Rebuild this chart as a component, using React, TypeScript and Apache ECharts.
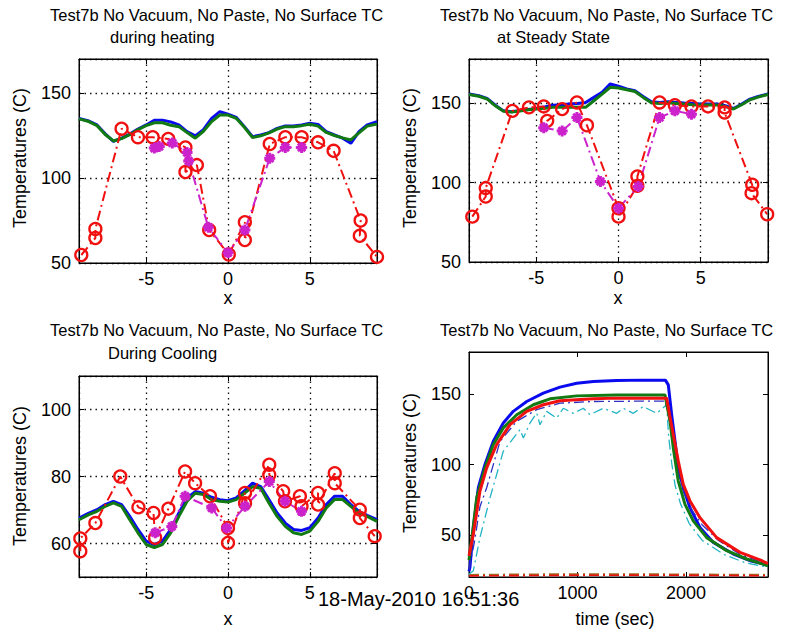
import React, { useEffect, useRef } from 'react';
import * as echarts from 'echarts';

// ---------- data ----------
const X_PROF = [-9.1, -8.5, -8, -7.5, -7, -6.5, -6, -5.5, -5, -4.5, -4, -3.5, -3, -2.5, -2, -1.5, -1, -0.5, 0, 0.5, 1, 1.5, 2, 2.5, 3, 3.5, 4, 4.5, 5, 5.5, 6, 6.5, 7, 7.5, 8, 8.5, 9.1];

// during heating
const HEAT_BLUE = [135.1, 133.5, 131.2, 126, 121.5, 123.5, 125.8, 128.8, 131.2, 134, 134, 133, 131.2, 127.3, 124.8, 128.4, 135.1, 139, 137.6, 135.7, 130.2, 124.3, 125.3, 126.7, 129.2, 130.6, 130.6, 131.2, 132.2, 131.5, 127.3, 125.3, 123.4, 120.4, 127.3, 131.2, 133.1];
const HEAT_GREEN = [134.8, 133.2, 130.8, 125.6, 121.8, 123.2, 125.5, 128.5, 130.8, 132.5, 132.5, 131, 130.2, 126.7, 123.4, 127.5, 133.2, 137, 137, 135.1, 129.8, 123.8, 124.8, 126.5, 128.8, 130.2, 130.2, 130.8, 131.6, 130.5, 126.8, 125, 123.6, 122.4, 126.5, 130.5, 131.8];
const HEAT_RED_X = [-8.96, -8.1, -8.1, -6.5, -5.5, -4.6, -3.65, -2.6, -2.6, -1.9, -1.15, 0.05, 1.03, 1.03, 2.55, 3.5, 4.5, 5.5, 6.45, 8.1, 8.05, 9.1];
const HEAT_RED_Y = [54.7, 64.7, 70, 129, 124, 124, 123, 118, 103.5, 107.6, 69.4, 55, 74, 63.5, 120, 124, 124, 121, 116, 75, 66, 53.6];
const HEAT_MAG_X = [-4.5, -4.2, -3.4, -2.5, -2.4, -1.2, 0, 1.03, 2.55, 3.5, 4.5];
const HEAT_MAG_Y = [117.6, 118.5, 120.6, 115, 110, 71, 56, 69.4, 111.6, 118, 118];

// at steady state
const SS_BLUE = [155.9, 154.8, 153.2, 148.9, 145.3, 144.7, 145.5, 146.2, 146.8, 147.8, 148.9, 149.2, 149.6, 150, 150.6, 153.8, 157, 162.3, 160.8, 159.1, 158, 154.4, 151, 150.6, 151, 150.6, 150.2, 150, 149.6, 149.6, 149.6, 148.5, 146.8, 149.6, 152.7, 154.4, 155.9];
const SS_GREEN = [155.6, 154.5, 152.8, 148.5, 145, 144.5, 145.2, 146, 146.5, 147, 147.5, 147.5, 147.5, 147.5, 147.5, 151.7, 155.9, 160.2, 159.7, 158.6, 157.5, 153.8, 150.4, 150, 150.4, 150, 149.6, 149.2, 149, 149, 149, 148, 146.5, 149.2, 152.3, 154, 155.6];
const SS_RED_X = [-8.9, -8.08, -8.08, -6.46, -5.45, -4.55, -4.34, -3.43, -2.53, -1.92, 0, 0, 1.15, 1.15, 2.5, 3.43, 4.44, 5.45, 6.46, 6.46, 8.14, 8.1, 9.05];
const SS_RED_Y = [78.6, 91.3, 96.6, 145.3, 147.5, 148.1, 139, 146.4, 150.6, 136.2, 83.9, 78.6, 98, 104, 150.6, 148.9, 148.1, 148.1, 147.5, 144.3, 98.7, 93.4, 80.1];
const SS_MAG_X = [-4.55, -3.43, -2.53, -1.1, 0, 1.2, 2.5, 3.43, 4.44];
const SS_MAG_Y = [134.7, 132.6, 141.1, 100.8, 83.9, 97.6, 141.1, 145.3, 143.2];

// during cooling
const COOL_BLUE = [67.6, 69.1, 70.1, 71.6, 72.6, 71.6, 68.1, 64.2, 60.7, 59.7, 60.7, 64.2, 69.1, 73.6, 75.5, 75, 73.8, 73.1, 72.8, 73.6, 75.7, 78, 77, 73.1, 69.1, 66.1, 64.2, 63.9, 64.7, 67.6, 71.6, 74.1, 74.1, 71.6, 69.6, 68.4, 67.1];
const COOL_GREEN = [67.1, 68.6, 69.6, 71.1, 72.1, 71.1, 67.1, 63.2, 59.7, 58.8, 59.7, 63.2, 68.1, 72.6, 75, 74.6, 73.1, 72.6, 72.4, 73.1, 75, 77, 76.5, 72.1, 68.1, 65.1, 63.2, 62.7, 63.7, 66.6, 70.6, 73.1, 73.1, 71.1, 69.1, 68.1, 66.6];
const COOL_RED_X = [-9.02, -9.02, -8.1, -6.58, -5.47, -4.55, -4.45, -3.64, -2.62, -2.01, -1.1, 0, 0, 1.04, 1.04, 2.52, 2.52, 3.37, 3.48, 4.39, 4.49, 5.5, 5.5, 6.52, 6.52, 8.05, 8.05, 8.96];
const COOL_RED_Y = [57.7, 61.5, 66.1, 80, 70.8, 69.1, 61.7, 70.4, 81.5, 78, 74.1, 64.6, 60.2, 75.1, 72, 83.5, 80.5, 75.6, 72.6, 74.1, 71.1, 75.1, 71.6, 81, 78, 70.1, 67.6, 62.2];
const COOL_MAG_X = [-4.45, -3.43, -2.62, -0.99, -0.08, 1.04, 2.52, 3.48, 4.49];
const COOL_MAG_Y = [63.2, 65.1, 74.1, 70.6, 64.6, 71.1, 78.5, 72.6, 69.6];

// time history
const T_BLUE = [0, 9, 40, 86, 147, 224, 316, 408, 532, 685, 839, 993, 1146, 1361, 1600, 1810, 1837, 1868, 1899, 1929, 1975, 2037, 2129, 2252, 2436, 2590, 2756];
const V_BLUE = [24, 27, 55, 83.5, 100, 116.5, 129.5, 137.8, 144.8, 150.7, 155, 157.8, 159, 159.7, 160, 160, 156.6, 135.4, 116.5, 97.6, 83.5, 69.3, 55.2, 44.6, 36.3, 31.6, 28.5];
const T_GREEN = [0, 30, 71, 147, 224, 316, 440, 593, 747, 993, 1361, 1806, 1853, 1883, 1929, 1991, 2067, 2191, 2375, 2559, 2756];
const V_GREEN = [32, 50, 76.4, 97.6, 114.2, 126, 135.4, 142.5, 146.7, 148.8, 149.5, 149.5, 130.7, 111.8, 88.2, 71.7, 59.9, 48, 38.7, 32.8, 28];
const T_RED = [0, 40, 101, 163, 255, 378, 532, 685, 839, 1146, 1361, 1800, 1822, 1850, 1883, 1929, 1975, 2037, 2129, 2283, 2498, 2682, 2756];
const V_RED = [35, 50.5, 81.1, 97.6, 114.2, 128.3, 137.8, 142.5, 145.3, 146.7, 147.2, 147.2, 147.2, 135, 121.3, 102.4, 85.9, 74.1, 62.2, 48, 37.5, 32.2, 29.5];
const T_BLUE_DD = [0, 50, 101, 163, 286, 440, 624, 839, 1146, 1500, 1800, 1830, 1870, 1920, 1980, 2050, 2150, 2300, 2500, 2756];
const V_BLUE_DD = [25, 45, 70, 83.5, 116.5, 130.7, 139, 143.6, 144.8, 145, 145, 140, 118, 95, 80, 68, 57, 46, 36, 29];
const T_CYAN = [0, 40, 101, 194, 316, 470, 501, 562, 624, 654, 716, 808, 869, 961, 1054, 1115, 1238, 1361, 1422, 1514, 1606, 1730, 1822, 1840, 1870, 1900, 1950, 2030, 2150, 2350, 2550, 2756];
const V_CYAN = [22, 24.5, 48, 76.4, 109.4, 124.8, 118.9, 129.5, 136.6, 128.3, 137.8, 133, 140, 136.4, 140, 135.4, 140, 136.4, 140, 136.4, 141.2, 136.4, 142.5, 120, 100, 85, 72, 58, 46, 36, 30, 27];
const T_BOTTOM = [0, 500, 1000, 1500, 2000, 2500, 2756];
const V_BOTTOM_RED = [20.8, 21, 21.2, 21.3, 21.2, 21, 20.9];
const V_BOTTOM_BROWN = [21.5, 21.8, 22, 22, 21.8, 21.6, 21.5];

const X_TICKS = [-5, 0, 5];
const T_TICKS = [0, 1000, 2000];
const Y_TICKS_HEAT = [50, 100, 150];
const Y_TICKS_SS = [50, 100, 150];
const Y_TICKS_COOL = [60, 80, 100];
const Y_TICKS_TIME = [50, 100, 150];

const TITLE = 'Test7b No Vacuum, No Paste, No Surface TC';

// ---------- styling helpers ----------
const FONT = "'Liberation Sans', Arial, Helvetica, sans-serif";
const BLUE = '#0a0aee';
const GREEN = '#127a12';
const RED = '#f01010';
const MAG = '#cc22cc';
const CYAN = '#22b4c4';
const DASHDOT: number[] = [10, 4, 2, 4];
const STAR = 'path://M5 0 L5 10 M0 5 L10 5 M1.6 1.6 L8.4 8.4 M1.6 8.4 L8.4 1.6';

const zip = (xs: number[], ys: number[]) => xs.map((x, i) => [x, ys[i]]);
const inList = (v: number, list: number[]) => list.some((t) => Math.abs(t - v) < 1e-6);

function makeXAxis(gi: number, min: number, max: number, step: number, ticks: number[], grid: boolean) {
  const common = {
    type: 'value', gridIndex: gi, min, max, minInterval: step, maxInterval: step,
    axisLine: { show: true, onZero: false, lineStyle: { color: '#000', width: 1 } },
    axisTick: { show: true, inside: true, length: 5, lineStyle: { color: '#000', width: 1 } },
  };
  return [
    {
      ...common, position: 'bottom',
      axisLabel: { show: true, margin: 7, color: '#000', fontSize: 18, fontFamily: FONT, formatter: (v: number) => (inList(v, ticks) ? String(v) : '') },
      splitLine: { show: grid, lineStyle: { color: '#111', type: [1.5, 4], width: 1.3 } },
    },
    { ...common, position: 'top', axisLabel: { show: false }, splitLine: { show: false } },
  ];
}

function makeYAxis(gi: number, min: number, max: number, step: number, ticks: number[], grid: boolean) {
  const common = {
    type: 'value', gridIndex: gi, min, max, minInterval: step, maxInterval: step,
    axisLine: { show: true, onZero: false, lineStyle: { color: '#000', width: 1 } },
    axisTick: { show: true, inside: true, length: 5, lineStyle: { color: '#000', width: 1 } },
  };
  return [
    {
      ...common, position: 'left',
      axisLabel: { show: true, margin: 8, color: '#000', fontSize: 18, fontFamily: FONT, formatter: (v: number) => (inList(v, ticks) ? String(v) : '') },
      splitLine: { show: grid, lineStyle: { color: '#111', type: [1.5, 4], width: 1.3 } },
    },
    { ...common, position: 'right', axisLabel: { show: false }, splitLine: { show: false } },
  ];
}

function solid(ai: number, data: number[][], color: string, width: number) {
  return {
    type: 'line', xAxisIndex: ai, yAxisIndex: ai, data, showSymbol: false, symbol: 'none',
    lineStyle: { color, width }, itemStyle: { color }, silent: true,
  };
}

function dashed(ai: number, data: number[][], color: string, width: number) {
  return {
    type: 'line', xAxisIndex: ai, yAxisIndex: ai, data, showSymbol: false, symbol: 'none',
    lineStyle: { color, width, type: DASHDOT }, itemStyle: { color }, silent: true,
  };
}

function marked(ai: number, data: number[][], color: string, symbol: string, size: number, bw: number) {
  return {
    type: 'line', xAxisIndex: ai, yAxisIndex: ai, data, symbol, symbolSize: size, showSymbol: true, showAllSymbol: true,
    lineStyle: { color, width: 2, type: DASHDOT },
    itemStyle: { color: 'rgba(0,0,0,0)', borderColor: color, borderWidth: bw },
    silent: true,
  };
}

function profileSeries(ai: number, blue: number[], green: number[], rx: number[], ry: number[], mx: number[], my: number[]) {
  return [
    solid(ai, zip(X_PROF, blue), BLUE, 3),
    solid(ai, zip(X_PROF, green), GREEN, 3),
    marked(ai, zip(rx, ry), RED, 'circle', 12, 2.3),
    marked(ai, zip(mx, my), MAG, STAR, 11, 3),
  ];
}

const textEl = (text: string, x: number, y: number, size: number, align = 'left', rotation = 0) => ({
  type: 'text', x, y, rotation, silent: true,
  style: { text, fontSize: size, fontFamily: FONT, fill: '#000', align, verticalAlign: 'middle' },
});

export default function App() {
  const ref = useRef<HTMLDivElement>(null);
  useEffect(() => {
    const chart = echarts.init(ref.current!, null, { renderer: 'svg' });
    const grids = [
      { left: 79, top: 59, width: 298, height: 204 },
      { left: 469, top: 59, width: 299, height: 203 },
      { left: 79, top: 376, width: 298, height: 201 },
      { left: 469, top: 352, width: 299, height: 225 },
    ].map((g) => ({ ...g, show: true, borderColor: '#000', borderWidth: 1, backgroundColor: '#fff', containLabel: false }));

    const xAxis = [
      ...makeXAxis(0, -9.1, 9.1, 5, X_TICKS, true),
      ...makeXAxis(1, -9.1, 9.1, 5, X_TICKS, true),
      ...makeXAxis(2, -9.1, 9.1, 5, X_TICKS, true),
      ...makeXAxis(3, 0, 2756, 1000, T_TICKS, false),
    ];
    const yAxis = [
      ...makeYAxis(0, 50, 170, 50, Y_TICKS_HEAT, true),
      ...makeYAxis(1, 50, 178, 50, Y_TICKS_SS, true),
      ...makeYAxis(2, 50, 110, 20, Y_TICKS_COOL, true),
      ...makeYAxis(3, 20, 180, 50, Y_TICKS_TIME, false),
    ];

    const series = [
      ...profileSeries(0, HEAT_BLUE, HEAT_GREEN, HEAT_RED_X, HEAT_RED_Y, HEAT_MAG_X, HEAT_MAG_Y),
      ...profileSeries(2, SS_BLUE, SS_GREEN, SS_RED_X, SS_RED_Y, SS_MAG_X, SS_MAG_Y),
      ...profileSeries(4, COOL_BLUE, COOL_GREEN, COOL_RED_X, COOL_RED_Y, COOL_MAG_X, COOL_MAG_Y),
      dashed(6, zip(T_BOTTOM, V_BOTTOM_BROWN), '#9a6a20', 2),
      dashed(6, zip(T_BOTTOM, V_BOTTOM_RED), RED, 1.6),
      dashed(6, zip(T_CYAN, V_CYAN), CYAN, 1.3),
      solid(6, zip(T_BLUE, V_BLUE), BLUE, 3),
      dashed(6, zip(T_BLUE_DD, V_BLUE_DD), '#3030c0', 1.3),
      solid(6, zip(T_GREEN, V_GREEN), GREEN, 3),
      solid(6, zip(T_RED, V_RED), RED, 3),
    ];

    const graphic = [
      textEl(TITLE, 50, 15, 16.5),
      textEl('during heating', 110, 37, 16.5),
      textEl(TITLE, 440, 15, 16.5),
      textEl('at Steady State', 497, 37, 16.5),
      textEl(TITLE, 50, 330, 16.5),
      textEl('During Cooling', 108, 353, 16.5),
      textEl(TITLE, 440, 330, 16.5),
      textEl('Temperatures (C)', 20, 158, 18, 'center', Math.PI / 2),
      textEl('Temperatures (C)', 410, 158, 18, 'center', Math.PI / 2),
      textEl('Temperatures (C)', 20, 476, 18, 'center', Math.PI / 2),
      textEl('Temperatures (C)', 410, 463, 18, 'center', Math.PI / 2),
      textEl('x', 228, 298, 18, 'center'),
      textEl('x', 618, 298, 18, 'center'),
      textEl('x', 228, 619, 18, 'center'),
      textEl('time (sec)', 615, 619, 18, 'center'),
      textEl('18-May-2010 16:51:36', 318, 599, 20),
    ];

    chart.setOption({
      animation: false,
      backgroundColor: '#fff',
      grid: grids,
      xAxis,
      yAxis,
      series,
      graphic,
    });
    return () => chart.dispose();
  }, []);
  return <div ref={ref} style={{ position: 'fixed', left: 0, top: 0, width: 785, height: 631, background: '#fff' }} />;
}
